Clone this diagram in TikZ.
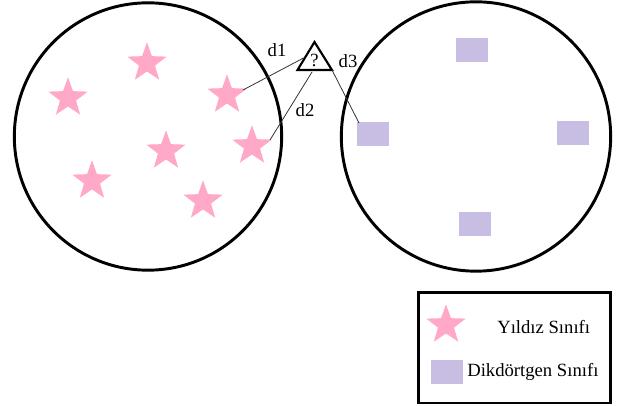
\documentclass[tikz,border=0pt]{standalone}
\usepackage{fontspec}
\setmainfont{Liberation Serif}
\usetikzlibrary{shapes.geometric}
\definecolor{starpink}{RGB}{255,168,200}
\definecolor{boxlilac}{RGB}{200,190,228}
\tikzset{
  pinkstar/.style={star, star points=5, star point ratio=2.45, fill=starpink,
    draw=none, minimum size=31pt, inner sep=0pt},
  lilacbox/.style={rectangle, fill=boxlilac, draw=none, minimum width=24pt,
    minimum height=18.5pt, inner sep=0pt},
  region/.style={circle, draw=black, line width=2.2pt, inner sep=0pt},
  dist/.style={draw=black!80, line width=0.6pt},
  lbl/.style={font=\fontsize{14}{16}\selectfont, inner sep=0pt}
}
\begin{document}
\begin{tikzpicture}[x=0.75pt, y=-0.75pt]
\useasboundingbox (0,0) rectangle (617,406);
% class regions
\node[region, minimum size=200.5pt] (left) at (148,136.5) {};
\node[region, minimum size=202pt] (right) at (476,136.5) {};
% star class samples
\node[pinkstar] (s1) at (147,63) {};
\node[pinkstar] (s2) at (68,98) {};
\node[pinkstar] (s3) at (227,95) {};
\node[pinkstar] (s4) at (166,151) {};
\node[pinkstar] (s5) at (252,146) {};
\node[pinkstar] (s6) at (92,181) {};
\node[pinkstar] (s7) at (203,201) {};
% rectangle class samples
\node[lilacbox] (r1) at (472,50) {};
\node[lilacbox] (r2) at (373,134) {};
\node[lilacbox] (r3) at (573,133) {};
\node[lilacbox] (r4) at (475,224) {};
% unknown sample
\coordinate (ta) at (314.5,42);
\coordinate (tl) at (297.5,70);
\coordinate (tr) at (332,70);
\draw[line width=1.6pt, line join=miter] (ta) -- (tl) -- (tr) -- cycle;
\node[lbl] (q) at (314.5,60) {?};
% distances to neighbours
\coordinate (p1) at (303.5,58);
\coordinate (p2) at (312,72);
\coordinate (e1) at (243,90);
\coordinate (e2) at (270,140);
\coordinate (e3) at (359,123);
\draw[dist] (p1) -- (e1);
\draw[dist] (p2) -- (e2);
\draw[dist] (tr) -- (e3);
\node[lbl] (d1) at (277,50) {d1};
\node[lbl] (d2) at (305,110) {d2};
\node[lbl] (d3) at (348,61) {d3};
% legend
\node[draw=black, line width=2pt, minimum width=144pt, minimum height=83pt,
  inner sep=0pt] (legend) at (514.5,347.5) {};
\node[pinkstar] (ls) at (446,325) {};
\node[lilacbox] (lr) at (447,372) {};
\node[lbl, anchor=west] (lt1) at (497,327) {Yıldız Sınıfı};
\node[lbl, anchor=west] (lt2) at (467,372) {Dikdörtgen Sınıfı};
\end{tikzpicture}
\end{document}
